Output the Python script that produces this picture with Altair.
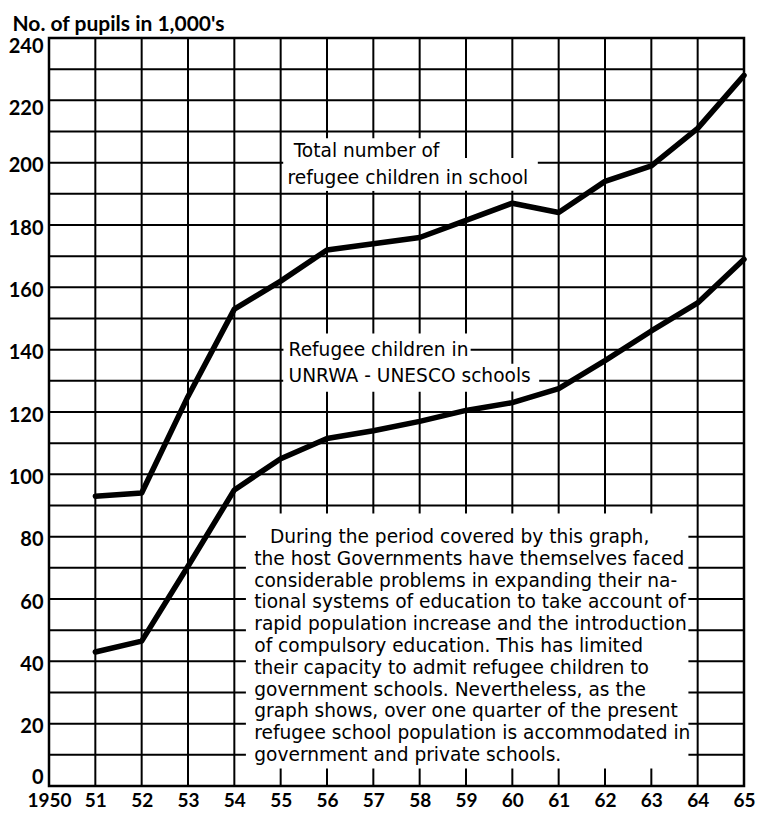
import altair as alt
import pandas as pd

# ---- chart values -------------------------------------------------------
years = list(range(1951, 1966))
total = [93, 94, 125, 153, 162, 172, 174, 176, 181.5, 187, 184, 194, 199, 211, 228]
unrwa = [43, 46.5, 70.5, 95, 105, 111.5, 114, 117, 120.5, 123, 127.5, 136.5, 146, 155, 169]
series_names = ["Total number of refugee children in school",
                "Refugee children in UNRWA-UNESCO schools"]

x_ticks = list(range(1950, 1966))
y_ticks = list(range(0, 241, 20))
x_grid = list(range(1951, 1965))
y_grid = list(range(10, 240, 10))

label_total = ["Total number of", "refugee children in school"]
label_unrwa = ["Refugee children in", "UNRWA - UNESCO schools"]
note_lines = [
    "During the period covered by this graph,",
    "the host Governments have themselves faced",
    "considerable problems in expanding their na-",
    "tional systems of education to take account of",
    "rapid population increase and the introduction",
    "of compulsory education. This has limited",
    "their capacity to admit refugee children to",
    "government schools. Nevertheless, as the",
    "graph shows, over one quarter of the present",
    "refugee school population is accommodated in",
    "government and private schools.",
]

AX_FONT = "Lato"
TX_FONT = "DejaVu Sans"
xs = alt.Scale(domain=[1950, 1965], nice=False, zero=False)
ys = alt.Scale(domain=[0, 240], nice=False, zero=True)

x_axis = alt.Axis(
    values=x_ticks,
    labelExpr="datum.value == 1950 ? '1950' : substring(toString(datum.value), 2, 4)",
    labelFont=AX_FONT, labelFontSize=19, labelFontWeight="bold", labelColor="black",
    labelPadding=5, ticks=False, domain=False, grid=False, title=None,
    labelFlush=False, labelOverlap=False,
)
y_axis = alt.Axis(
    values=y_ticks, format="d",
    labelFont=AX_FONT, labelFontSize=20, labelFontWeight="bold", labelColor="black",
    labelPadding=6, ticks=False, domain=False, grid=False,
    labelFlush=False, labelOverlap=False,
    labelOffset={"condition": [{"test": "datum.value == 0", "value": -9},
                               {"test": "datum.value >= 220", "value": 8}],
                 "value": 3},
    title="No. of pupils in 1,000's", titleAngle=0, titleAlign="left",
    titleBaseline="alphabetic", titleX=-37, titleY=-8,
    titleFont=AX_FONT, titleFontSize=21, titleFontWeight="bold", titleColor="black",
)

# ---- grid ---------------------------------------------------------------
vgrid = alt.Chart(pd.DataFrame({"x": x_grid})).mark_rule(
    color="black", strokeWidth=2
).encode(x=alt.X("x:Q", scale=xs, axis=x_axis))

hgrid = alt.Chart(pd.DataFrame({"y": y_grid})).mark_rule(
    color="black", strokeWidth=2
).encode(y=alt.Y("y:Q", scale=ys, axis=y_axis))

# ---- white boxes behind the annotations (layout, in data units) ----------
boxes = pd.DataFrame({
    "x":  [1955.06, 1955.06, 1955.06, 1955.06, 1954.25],
    "x2": [1958.6, 1960.55, 1959.1, 1960.58, 1963.8],
    "y":  [191.0, 191.0, 126.6, 126.6, 5.6],
    "y2": [207.8, 201.5, 145.2, 135.5, 87.4],
})
mask = alt.Chart(boxes).mark_rect(fill="white").encode(
    x=alt.X("x:Q", scale=xs, axis=x_axis), x2="x2:Q",
    y=alt.Y("y:Q", scale=ys, axis=y_axis), y2="y2:Q",
)

# ---- data lines ----------------------------------------------------------
df = pd.DataFrame({
    "year": years * 2,
    "value": total + unrwa,
    "series": [series_names[0]] * len(years) + [series_names[1]] * len(years),
})
lines = alt.Chart(df).mark_line(
    color="black", strokeWidth=5.5, strokeJoin="round", strokeCap="round"
).encode(
    x=alt.X("year:Q", scale=xs, axis=x_axis),
    y=alt.Y("value:Q", scale=ys, axis=y_axis),
    detail="series:N",
)

# ---- annotation text (layout, in data units) -----------------------------
ann_rows = [
    {"t": label_total[0], "x": 1955.28, "y": 201.9},
    {"t": label_total[1], "x": 1955.15, "y": 193.3},
    {"t": label_unrwa[0], "x": 1955.17, "y": 138.1},
    {"t": label_unrwa[1], "x": 1955.17, "y": 129.5},
]
for i, line in enumerate(note_lines):
    ann_rows.append({"t": line, "x": 1954.77 if i == 0 else 1954.43,
                     "y": 78.0 - 7.0 * i})
texts = alt.Chart(pd.DataFrame(ann_rows)).mark_text(
    align="left", baseline="alphabetic", font=TX_FONT, fontSize=18.6, color="black"
).encode(
    x=alt.X("x:Q", scale=xs, axis=x_axis),
    y=alt.Y("y:Q", scale=ys, axis=y_axis),
    text="t:N",
)

chart = alt.layer(vgrid, hgrid, mask, lines, texts).properties(
    width=695, height=748,
    autosize=alt.AutoSizeParams(type="none"),
    padding={"left": 41, "top": 30, "right": 12, "bottom": 26},
    background="white",
).configure_view(stroke="black", strokeWidth=2.5)

chart.save("out.html", embed_options={"renderer": "svg", "actions": False})
